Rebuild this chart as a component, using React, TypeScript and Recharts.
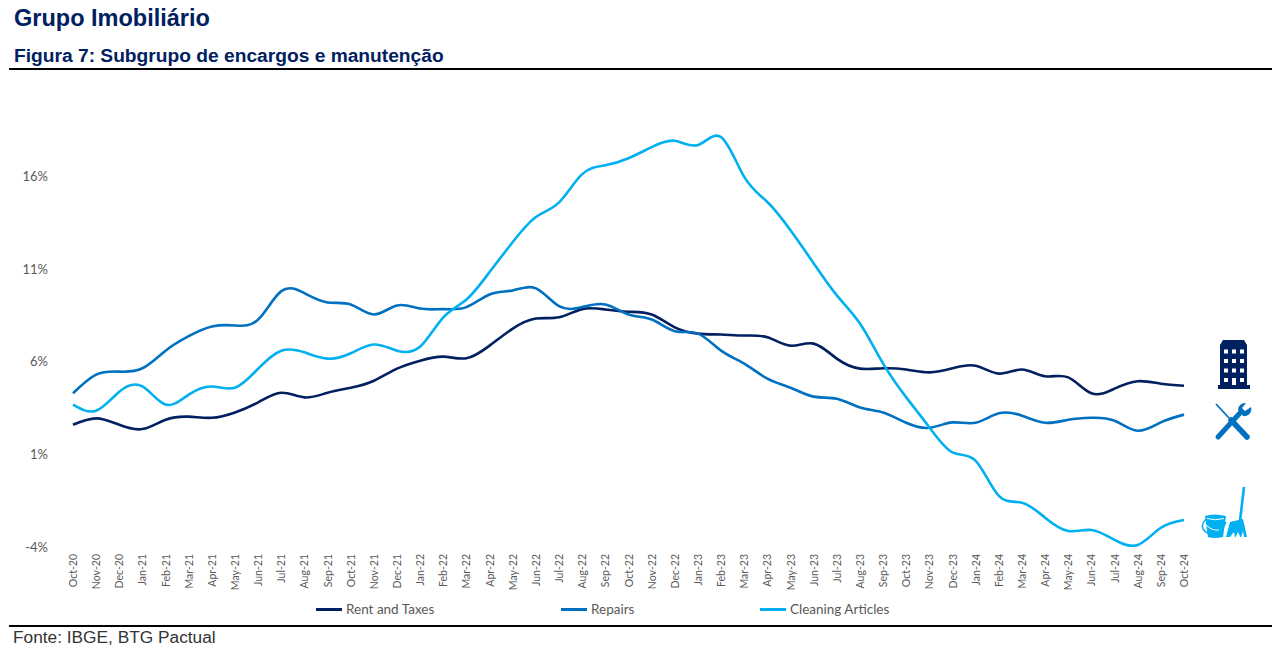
import React from "react";
import { LineChart, Line, XAxis, YAxis, Legend } from "recharts";

const months = [
  "Oct-20", "Nov-20", "Dec-20", "Jan-21", "Feb-21", "Mar-21", "Apr-21", "May-21", "Jun-21", "Jul-21",
  "Aug-21", "Sep-21", "Oct-21", "Nov-21", "Dec-21", "Jan-22", "Feb-22", "Mar-22", "Apr-22", "May-22",
  "Jun-22", "Jul-22", "Aug-22", "Sep-22", "Oct-22", "Nov-22", "Dec-22", "Jan-23", "Feb-23", "Mar-23",
  "Apr-23", "May-23", "Jun-23", "Jul-23", "Aug-23", "Sep-23", "Oct-23", "Nov-23", "Dec-23", "Jan-24",
  "Feb-24", "Mar-24", "Apr-24", "May-24", "Jun-24", "Jul-24", "Aug-24", "Sep-24", "Oct-24",
];

const rentAndTaxes = [
  2.59, 2.94, 2.59, 2.36, 2.86, 3.03, 2.97, 3.26, 3.8, 4.32,
  4.07, 4.32, 4.59, 4.97, 5.62, 6.05, 6.27, 6.18, 6.86, 7.78,
  8.32, 8.39, 8.83, 8.81, 8.69, 8.54, 7.85, 7.51, 7.46, 7.41,
  7.31, 6.86, 6.97, 6.16, 5.62, 5.64, 5.57, 5.42, 5.64, 5.78,
  5.35, 5.57, 5.21, 5.15, 4.29, 4.54, 4.94, 4.81, 4.7,
];

const repairs = [
  4.29, 5.3, 5.46, 5.64, 6.59, 7.37, 7.89, 7.95, 8.27, 9.8,
  9.69, 9.19, 9.08, 8.54, 9.03, 8.86, 8.83, 8.94, 9.62, 9.84,
  9.95, 8.99, 8.94, 9.08, 8.54, 8.27, 7.64, 7.51, 6.59, 5.89,
  5.08, 4.59, 4.11, 4.0, 3.53, 3.26, 2.7, 2.43, 2.72, 2.7,
  3.21, 3.08, 2.7, 2.86, 2.97, 2.81, 2.27, 2.72, 3.14,
];

const cleaningArticles = [
  3.68, 3.35, 4.38, 4.66, 3.68, 4.22, 4.66, 4.59, 5.62, 6.59,
  6.5, 6.16, 6.45, 6.92, 6.59, 6.81, 8.39, 9.35, 10.83, 12.45,
  13.8, 14.59, 16.11, 16.59, 16.97, 17.57, 17.91, 17.68, 18.11, 15.96,
  14.61, 13.08, 11.3, 9.57, 8.05, 5.89, 4.07, 2.45, 1.1, 0.65,
  -1.24, -1.61, -2.42, -3.14, -3.08, -3.62, -3.89, -2.96, -2.54,
];

const yTicks = [-4, 1, 6, 11, 16];

const NAVY = "#002060";
const BLUE = "#0070C0";
const CYAN = "#00B0F0";

const data = months.map((month, i) => ({
  month,
  rent: rentAndTaxes[i],
  repairs: repairs[i],
  cleaning: cleaningArticles[i],
}));

const titleFont = "'Liberation Sans', Arial, sans-serif";
const chartFont = "Lato, 'Open Sans', sans-serif";

const MonthTick = ({ x, y, payload }: any) => (
  <text
    x={x}
    y={y}
    transform={`rotate(-90 ${x} ${y})`}
    textAnchor="end"
    dominantBaseline="central"
    fontFamily={chartFont}
    fontSize={10.5}
    fill="#595959"
  >
    {payload.value}
  </text>
);

const ChartLegend = ({ payload }: any) => (
  <div style={{ position: "relative", height: 16, fontFamily: chartFont, fontSize: 13.5, color: "#595959" }}>
    {(payload || []).map((item: any, i: number) => (
      <div
        key={item.value}
        style={{ position: "absolute", left: [0, 245, 444][i], top: 0, display: "flex", alignItems: "center", whiteSpace: "nowrap" }}
      >
        <span style={{ width: 26, height: 3, background: item.color, marginRight: 4 }} />
        {item.value}
      </div>
    ))}
  </div>
);

const Icons = () => (
  <svg width={1281} height={657} style={{ position: "absolute", left: 0, top: 0, pointerEvents: "none" }}>
    {/* building */}
    <path d="M1220 345 L1223 340 L1244 340 L1247 345 L1247 385 L1250 385 L1250 389 L1218 389 L1218 385 L1220 385 Z" fill={NAVY} />
    {[349.5, 359, 368.5, 378].map((y) =>
      [1224, 1232, 1240].map((x) => (
        <rect key={`${x}-${y}`} x={x} y={y} width={4} height={4} fill="#fff" />
      ))
    )}
    <rect x={1232} y={378} width={4} height={7} fill="#fff" />
    {/* tools */}
    <line x1={1218} y1={437} x2={1240} y2={413} stroke={BLUE} strokeWidth={5} strokeLinecap="round" />
    <path d="M1238 410 A7 7 0 0 1 1246 403 L1242 408 L1245 411 L1251 407 A7 7 0 0 1 1243 416 Z" fill={BLUE} />
    <line x1={1216} y1={404} x2={1229} y2={418} stroke={BLUE} strokeWidth={1.8} />
    <line x1={1231} y1={420} x2={1247} y2={437} stroke={BLUE} strokeWidth={5.5} strokeLinecap="round" />
    {/* bucket and broom */}
    <path d="M1205 516 Q1214 513 1226 516 L1223 537 Q1214 539 1208 537 Z" fill={CYAN} />
    <path d="M1206 519 Q1201 524 1203 529 Q1207 535 1215 534 Q1222 532 1226 522" fill="none" stroke={CYAN} strokeWidth={1.4} />
    <path d="M1207 518.5 Q1215 521 1224 518.5" fill="none" stroke="#fff" strokeWidth={1} />
    <path d="M1206 525 Q1212 531 1219 530" fill="none" stroke="#fff" strokeWidth={1} />
    <line x1={1244} y1={487} x2={1240} y2={521} stroke={CYAN} strokeWidth={2.6} />
    <path d="M1230 522 L1243 519 L1247 537 L1244 537 L1243 531 L1241 538 L1238 532 L1235 538 L1234 532 L1230 537 L1226 537 Z" fill={CYAN} />
  </svg>
);

export default function App() {
  return (
    <div style={{ position: "absolute", left: 0, top: 0, width: 1281, height: 657, overflow: "hidden", background: "#fff" }}>
      <div style={{ position: "absolute", left: 14, top: 5, fontFamily: titleFont, fontWeight: 700, fontSize: 23.5, color: NAVY, whiteSpace: "nowrap" }}>
        Grupo Imobiliário
      </div>
      <div style={{ position: "absolute", left: 14, top: 45, fontFamily: titleFont, fontWeight: 700, fontSize: 19.2, color: NAVY, whiteSpace: "nowrap" }}>
        Figura 7: Subgrupo de encargos e manutenção
      </div>
      <div style={{ position: "absolute", left: 9, top: 68, width: 1263, height: 2, background: "#000" }} />

      <div style={{ position: "absolute", left: 0, top: 0 }}>
        <LineChart
          width={1281}
          height={657}
          data={data}
          margin={{ top: 83.5, right: 97, bottom: 44, left: 23 }}
        >
          <XAxis
            dataKey="month"
            interval={0}
            height={50}
            axisLine={false}
            tickLine={false}
            tickMargin={1}
            tick={<MonthTick />}
          />
          <YAxis
            width={50}
            domain={[-4, 21]}
            ticks={yTicks}
            allowDataOverflow
            axisLine={false}
            tickLine={false}
            tickMargin={19}
            tickFormatter={(v) => `${v}%`}
            tick={{ fontFamily: chartFont, fontSize: 13, fill: "#595959" }}
          />
          <Legend
            content={<ChartLegend />}
            itemSorter={null}
            wrapperStyle={{ left: 316, top: 601, width: 700, bottom: "auto" }}
          />
          <Line name="Rent and Taxes" dataKey="rent" type="natural" stroke={NAVY} strokeWidth={2.6} dot={false} isAnimationActive={false} />
          <Line name="Repairs" dataKey="repairs" type="natural" stroke={BLUE} strokeWidth={2.6} dot={false} isAnimationActive={false} />
          <Line name="Cleaning Articles" dataKey="cleaning" type="natural" stroke={CYAN} strokeWidth={2.6} dot={false} isAnimationActive={false} />
        </LineChart>
      </div>

      <Icons />

      <div style={{ position: "absolute", left: 9, top: 625, width: 1263, height: 2, background: "#000" }} />
      <div style={{ position: "absolute", left: 13, top: 627, fontFamily: titleFont, fontSize: 17.3, color: "#333", whiteSpace: "nowrap" }}>
        Fonte: IBGE, BTG Pactual
      </div>
    </div>
  );
}
